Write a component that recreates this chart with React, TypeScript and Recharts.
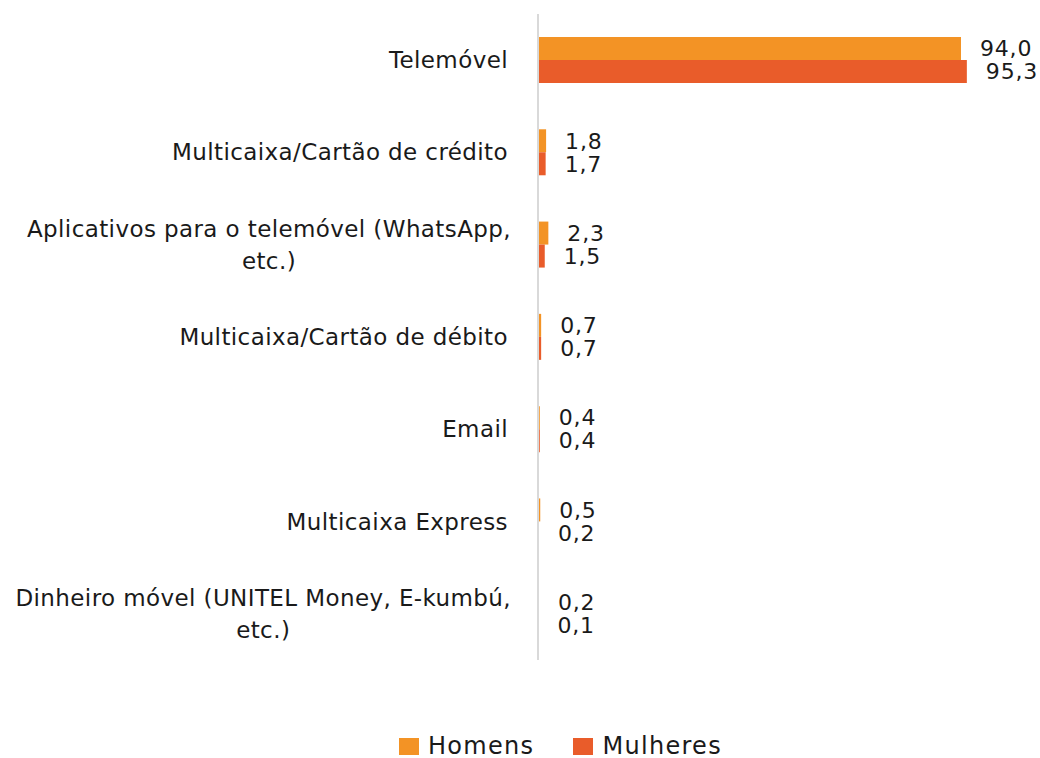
import React from "react";
import { BarChart, Bar, XAxis, YAxis, Legend, LabelList } from "recharts";

const categories = [
  "Telemóvel",
  "Multicaixa/Cartão de crédito",
  "Aplicativos para o telemóvel (WhatsApp, etc.)",
  "Multicaixa/Cartão de débito",
  "Email",
  "Multicaixa Express",
  "Dinheiro móvel (UNITEL Money, E-kumbú, etc.)",
];
const homens = [94.0, 1.8, 2.3, 0.7, 0.4, 0.5, 0.2];
const mulheres = [95.3, 1.7, 1.5, 0.7, 0.4, 0.2, 0.1];

const data = categories.map((name, i) => ({ name, homens: homens[i], mulheres: mulheres[i] }));

const FONT = "'DejaVu Sans', Verdana, sans-serif";
const TICK_SIZE = 23;
const SPACING = 0.4;
const MAX_LABEL_W = 512;

let ctx: CanvasRenderingContext2D | null = null;
function measure(s: string) {
  if (!ctx) ctx = document.createElement("canvas").getContext("2d");
  if (!ctx) return s.length * TICK_SIZE * 0.64;
  ctx.font = `${TICK_SIZE}px 'DejaVu Sans'`;
  return ctx.measureText(s).width + s.length * SPACING;
}

function wrap(text: string) {
  const words = text.split(" ");
  const lines: string[] = [];
  let cur = "";
  for (const w of words) {
    const next = cur ? cur + " " + w : w;
    if (cur && measure(next) > MAX_LABEL_W) {
      lines.push(cur);
      cur = w;
    } else cur = next;
  }
  if (cur) lines.push(cur);
  return lines;
}

const CategoryTick = (props: any) => {
  const { x, y, payload } = props;
  const lines = wrap(payload.value);
  const lh = 32;
  const common = { fontSize: TICK_SIZE, fontFamily: FONT, fill: "#1a1a1a", letterSpacing: SPACING };
  if (lines.length === 1) {
    return (
      <text x={x} y={y} dy="0.35em" textAnchor="end" {...common}>
        {lines[0]}
      </text>
    );
  }
  const w = Math.max(...lines.map(measure));
  const cx = x - w / 2 + 3;
  const top = y - ((lines.length - 1) * lh) / 2;
  return (
    <text textAnchor="middle" {...common}>
      {lines.map((l, i) => (
        <tspan key={i} x={cx} y={top + i * lh} dy="0.35em">
          {l}
        </tspan>
      ))}
    </text>
  );
};

const fmt = (v: any) => Number(v).toFixed(1).replace(".", ",");

const LegendContent = () => (
  <div
    style={{
      display: "flex",
      alignItems: "center",
      fontFamily: FONT,
      fontSize: 24,
      lineHeight: "20px",
      height: 20,
      letterSpacing: 1.3,
      color: "#1a1a1a",
    }}
  >
    <span style={{ display: "inline-block", width: 20, height: 17, background: "#F39325", marginRight: 9 }} />
    <span style={{ marginRight: 39 }}>Homens</span>
    <span style={{ display: "inline-block", width: 20, height: 17, background: "#E95C2A", marginRight: 9 }} />
    <span>Mulheres</span>
  </div>
);

export default function App() {
  return (
    <div style={{ position: "absolute", left: 0, top: 0, background: "#fff" }}>
      <BarChart
        width={1040}
        height={758}
        data={data}
        layout="vertical"
        margin={{ top: 14, right: 52, bottom: 78, left: 0 }}
        barGap={0}
        barCategoryGap="24%"
      >
        <XAxis type="number" domain={[0, 100]} hide />
        <YAxis
          type="category"
          dataKey="name"
          width={538}
          tickLine={false}
          tickSize={0}
          tickMargin={30}
          axisLine={{ stroke: "#d9d9d9", strokeWidth: 2 }}
          tick={<CategoryTick />}
          interval={0}
        />
        <Legend
          content={<LegendContent />}
          wrapperStyle={{ position: "absolute", left: 399, top: 736, width: "auto" }}
        />
        <Bar dataKey="homens" name="Homens" fill="#F39325" barSize={23} isAnimationActive={false}>
          <LabelList dataKey="homens" position="right" offset={19} formatter={fmt} fill="#1a1a1a" fontSize={22} fontFamily={FONT} letterSpacing={0.8} />
        </Bar>
        <Bar dataKey="mulheres" name="Mulheres" fill="#E95C2A" barSize={23} isAnimationActive={false}>
          <LabelList dataKey="mulheres" position="right" offset={19} formatter={fmt} fill="#1a1a1a" fontSize={22} fontFamily={FONT} letterSpacing={0.8} />
        </Bar>
      </BarChart>
    </div>
  );
}
